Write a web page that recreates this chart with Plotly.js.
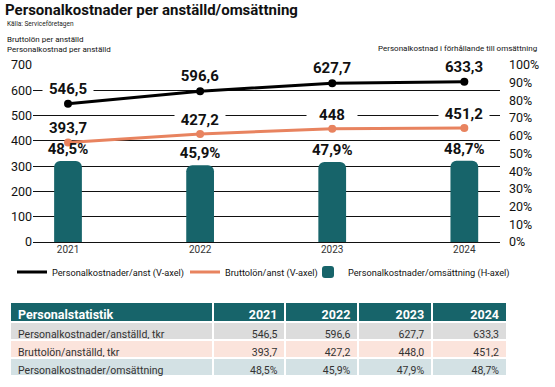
<!DOCTYPE html>
<html><head><meta charset="utf-8">
<script src="https://cdn.plot.ly/plotly-3.0.1.min.js"></script>
<style>html,body{margin:0;padding:0;background:#fff}#chart{width:555px;height:387px}</style>
</head><body><div id="chart"></div>
<script>
const years = [2021, 2022, 2023, 2024];
const personalkostnadPerAnst = [546.5, 596.6, 627.7, 633.3];
const bruttolonPerAnst = [393.7, 427.2, 448.0, 451.2];
const personalkostnadOmsattning = [0.485, 0.459, 0.479, 0.487];
const legendNames = ['Personalkostnader/anst (V-axel)', 'Bruttolön/anst (V-axel)', 'Personalkostnader/omsättning (H-axel)'];
const tableTitle = 'Personalstatistik';
const rowLabels = ['Personalkostnader/anställd, tkr', 'Bruttolön/anställd, tkr', 'Personalkostnader/omsättning'];
const chartTitle = 'Personalkostnader per anställd/omsättning';
const sourceText = 'Källa: Serviceföretagen';
const leftAxisTitle = 'Bruttolön per anställd<br>Personalkostnad per anställd';
const rightAxisTitle = 'Personalkostnad i förhållande till omsättning';

const FONT = 'Roboto, "Open Sans", sans-serif';
const TEAL = '#17646a';
const ORANGE = '#e8835f';
const W = 555, H = 387;
const px = v => v / W, py = v => 1 - v / H;

const comma = v => String(v).replace('.', ',');
const fixed1 = v => v.toFixed(1).replace('.', ',');
const pct1 = v => (v * 100).toFixed(1).replace('.', ',') + '%';

const traces = [
  // anchors the right-hand percentage axis (draws nothing)
  {type: 'scatter', mode: 'none', x: years, y: personalkostnadOmsattning, yaxis: 'y2', showlegend: false, hoverinfo: 'skip'},
  {type: 'bar', x: years, y: personalkostnadOmsattning, yaxis: 'y3', name: legendNames[2], legend: 'legend3',
   marker: {color: TEAL, cornerradius: 6}, width: 0.21,
   texttemplate: '%{y:.1%}', textposition: 'outside', cliponaxis: false, constraintext: 'none',
   textfont: {family: FONT, size: 15, color: '#111', weight: 'bold'}, hoverinfo: 'skip'},
  {type: 'scatter', mode: 'lines', x: years, y: bruttolonPerAnst, name: legendNames[1], legend: 'legend2',
   line: {color: ORANGE, width: 3}},
  {type: 'scatter', mode: 'markers', x: years, y: bruttolonPerAnst, showlegend: false,
   marker: {color: ORANGE, size: 8}},
  {type: 'scatter', mode: 'lines', x: years, y: personalkostnadPerAnst, name: legendNames[0], legend: 'legend',
   line: {color: '#000', width: 3}},
  {type: 'scatter', mode: 'markers', x: years, y: personalkostnadPerAnst, showlegend: false,
   marker: {color: '#000', size: 8}},
  {type: 'table', domain: {x: [px(10), px(508)], y: [py(377), py(302)]},
   columnwidth: [203, 73, 73, 74, 75],
   header: {values: [tableTitle].concat(years.map(String)), height: 20,
     align: ['left', 'right', 'right', 'right', 'right'],
     fill: {color: TEAL}, line: {color: '#fff', width: 2},
     font: {family: FONT, size: 12.5, color: '#fff', weight: 'bold'}},
   cells: {values: [rowLabels].concat(years.map((y, i) => [fixed1(personalkostnadPerAnst[i]), fixed1(bruttolonPerAnst[i]), pct1(personalkostnadOmsattning[i])])),
     height: 18, align: ['left', 'right', 'right', 'right', 'right'],
     fill: {color: [0, 1, 2, 3, 4].map(() => ['#dcdcdc', '#fbe4dc', '#d3e1e4'])},
     line: {color: '#fff', width: 2},
     font: {family: FONT, size: 10.5, color: '#333'}}}
];

const annotations = [];
years.forEach((yr, i) => {
  annotations.push({x: yr, y: personalkostnadPerAnst[i], xref: 'x', yref: 'y', yshift: 15, showarrow: false,
    text: comma(personalkostnadPerAnst[i]), bgcolor: '#fff', width: 50, borderpad: 0,
    font: {family: FONT, size: 15, color: '#111', weight: 'bold'}});
  annotations.push({x: yr, y: bruttolonPerAnst[i], xref: 'x', yref: 'y', yshift: 14, showarrow: false,
    text: comma(bruttolonPerAnst[i]), bgcolor: '#fff', width: 50, borderpad: 0,
    font: {family: FONT, size: 15, color: '#111', weight: 'bold'}});
});
annotations.push({xref: 'paper', yref: 'paper', x: px(5), y: py(24), xanchor: 'left', yanchor: 'middle', showarrow: false,
  text: sourceText, font: {family: FONT, size: 6.5, color: '#222'}});
annotations.push({xref: 'paper', yref: 'paper', x: px(5), y: py(45), xanchor: 'left', yanchor: 'middle', showarrow: false,
  align: 'left', text: leftAxisTitle, font: {family: FONT, size: 8, color: '#111'}});
annotations.push({xref: 'paper', yref: 'paper', x: px(539), y: py(49), xanchor: 'right', yanchor: 'middle', showarrow: false,
  text: rightAxisTitle, font: {family: FONT, size: 8, color: '#111'}});

const legendBase = {orientation: 'h', xanchor: 'left', y: py(272), yanchor: 'middle',
  font: {family: FONT, size: 9.2, color: '#111'}, bgcolor: 'rgba(0,0,0,0)'};

const layout = {
  width: W, height: H, margin: {l: 0, r: 0, t: 0, b: 0},
  paper_bgcolor: '#fff', plot_bgcolor: '#fff', separators: ', ',
  font: {family: FONT, color: '#111'},
  title: {text: chartTitle, x: px(5), xanchor: 'left', xref: 'container', y: py(10), yanchor: 'middle', yref: 'container',
    font: {family: FONT, size: 15, color: '#111', weight: 'bold'}},
  xaxis: {domain: [px(33), px(500)], type: 'linear', range: [years[0] - 0.265, years[3] + 0.27], showgrid: false, zeroline: false,
    tickvals: years, ticktext: years.map(String), ticks: '', tickfont: {family: FONT, size: 10, color: '#333'}},
  yaxis: {domain: [py(242), py(65)], range: [0, 700], dtick: 100, showgrid: true, gridcolor: '#111', gridwidth: 1,
    zeroline: true, zerolinecolor: '#111', zerolinewidth: 1, ticks: '', tickfont: {family: FONT, size: 12.5, color: '#111'}},
  yaxis2: {overlaying: 'y', side: 'right', anchor: 'x', range: [0, 1], dtick: 0.1, tickformat: '.0%', showgrid: false,
    zeroline: false, ticks: '', ticklabelstandoff: 8, tickfont: {family: FONT, size: 12.5, color: '#111'}},
  yaxis3: {overlaying: 'y', anchor: 'x', range: [0, 1.06], visible: false},
  showlegend: true,
  legend: Object.assign({x: px(12)}, legendBase),
  legend2: Object.assign({x: px(185)}, legendBase),
  legend3: Object.assign({x: px(308)}, legendBase),
  annotations: annotations,
  hovermode: false
};

Plotly.newPlot('chart', traces, layout, {displayModeBar: false, staticPlot: true});
</script></body></html>
